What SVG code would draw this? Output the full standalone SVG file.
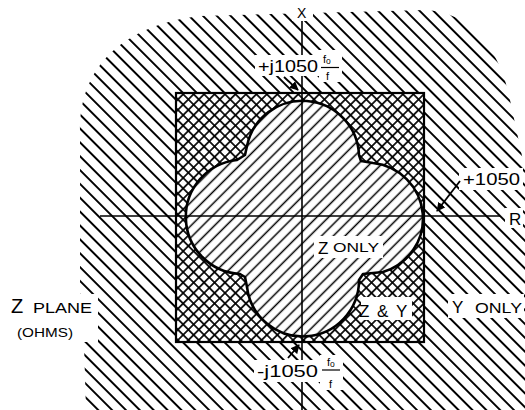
<svg xmlns="http://www.w3.org/2000/svg" width="525" height="410" viewBox="0 0 525 410">
<defs>
<style>
text { font-family: "Liberation Sans", Arial, sans-serif; fill: #000; }
.big { font-size: 17px; }
.lbl { font-size: 16.5px; }
.sm { font-size: 13px; }
.frac { font-size: 11px; }
.ko { fill: #fff; }
.axis { stroke: #000; stroke-width: 1.6; fill: none; }
.arr { stroke: #000; stroke-width: 1.8; fill: none; marker-end: url(#ah); }
.edge { stroke: #000; fill: none; }
</style>
<pattern id="hOut" patternUnits="userSpaceOnUse" width="20" height="9.8" patternTransform="rotate(45)">
<line x1="0" y1="4.9" x2="20" y2="4.9" stroke="#000" stroke-width="2"/>
</pattern>
<pattern id="hIn" patternUnits="userSpaceOnUse" width="20" height="8.3" patternTransform="rotate(-45)">
<line x1="0" y1="4.1" x2="20" y2="4.1" stroke="#000" stroke-width="1.5"/>
</pattern>
<pattern id="hX1" patternUnits="userSpaceOnUse" width="20" height="7.4" patternTransform="rotate(45)">
<line x1="0" y1="3.7" x2="20" y2="3.7" stroke="#000" stroke-width="1.7"/>
</pattern>
<pattern id="hX2" patternUnits="userSpaceOnUse" width="20" height="7.4" patternTransform="rotate(-45)">
<line x1="0" y1="3.7" x2="20" y2="3.7" stroke="#000" stroke-width="1.7"/>
</pattern>
<marker id="ah" viewBox="0 0 10 10" refX="9" refY="5" markerWidth="5" markerHeight="5" orient="auto">
<path d="M0,0 L10,5 L0,10 z" fill="#000"/>
</marker>
</defs>

<g id="y-only-region">
<path fill="url(#hOut)" fill-rule="evenodd" d="M86,410 L84,345 L80,300 L80,130 C80,65 125,25 200,16 L425,10 C470,12 500,48 510,100 L525,170 L525,410 Z M176,93 L424,93 L424,342 L176,342 Z"/>
</g>

<g id="z-and-y-region">
<path fill="url(#hX1)" fill-rule="evenodd" d="M176,93 L424,93 L424,342 L176,342 Z M247,146 A56.6 56.6 0 0 1 359,155 L361,161 L373,163 A55.8 55.8 0 0 1 383,272 L363,274 L359,280 A56.2 56.2 0 0 1 247,287 L245,277 L240,274 A57.2 57.2 0 0 1 237,160 L245,155 Z"/>
<path fill="url(#hX2)" fill-rule="evenodd" d="M176,93 L424,93 L424,342 L176,342 Z M247,146 A56.6 56.6 0 0 1 359,155 L361,161 L373,163 A55.8 55.8 0 0 1 383,272 L363,274 L359,280 A56.2 56.2 0 0 1 247,287 L245,277 L240,274 A57.2 57.2 0 0 1 237,160 L245,155 Z"/>
<rect class="edge" x="176" y="93" width="248" height="249" stroke-width="2.2"/>
</g>

<g id="z-only-region">
<path class="edge" stroke-width="2.6" stroke-linejoin="round" style="fill:url(#hIn)" d="M247,146 A56.6 56.6 0 0 1 359,155 L361,161 L373,163 A55.8 55.8 0 0 1 383,272 L363,274 L359,280 A56.2 56.2 0 0 1 247,287 L245,277 L240,274 A57.2 57.2 0 0 1 237,160 L245,155 Z"/>
</g>

<g id="knockouts">
<rect class="ko" x="292" y="3" width="21" height="18"/>
<rect class="ko" x="255" y="55" width="65" height="21"/>
<rect class="ko" x="319" y="50" width="23" height="32"/>
<rect class="ko" x="254" y="360" width="66" height="22"/>
<rect class="ko" x="320" y="355" width="23" height="35"/>
<rect class="ko" x="459" y="168" width="64" height="22"/>
<rect class="ko" x="505" y="208" width="18" height="20"/>
<rect class="ko" x="314" y="236" width="69" height="22"/>
<rect class="ko" x="361" y="297" width="51" height="23"/>
<rect class="ko" x="448" y="294" width="76" height="24"/>
<rect class="ko" x="6" y="294" width="92" height="48"/>
</g>

<g id="connectors">
<line class="axis" x1="302" y1="21" x2="302" y2="55"/>
<line class="axis" x1="302" y1="76" x2="302" y2="360"/>
<line class="axis" x1="302" y1="382" x2="302" y2="410"/>
<line class="axis" x1="100" y1="216" x2="500" y2="216"/>
<line class="arr" x1="284" y1="77" x2="298" y2="90"/>
<line class="arr" x1="288" y1="358" x2="299" y2="345"/>
<line class="arr" x1="460" y1="181" x2="437" y2="211"/>
</g>

<g id="labels">
<text x="297" y="18" style="font-size:14px">X</text>
<text class="lbl" x="258" y="72" textLength="60" lengthAdjust="spacingAndGlyphs">+j1050</text>
<text class="frac" x="323" y="63">f<tspan font-size="8.5" dy="1">o</tspan></text>
<line x1="321" y1="67.5" x2="339" y2="67.5" stroke="#000" stroke-width="1.2"/>
<text class="frac" x="326" y="80">f</text>
<text class="lbl" x="257" y="377" textLength="61" lengthAdjust="spacingAndGlyphs">-j1050</text>
<text class="frac" x="327" y="366">f<tspan font-size="8.5" dy="1">o</tspan></text>
<line x1="322" y1="370" x2="340" y2="370" stroke="#000" stroke-width="1.2"/>
<text class="frac" x="329" y="388">f</text>
<text class="lbl" x="463" y="185" textLength="57" lengthAdjust="spacingAndGlyphs">+1050</text>
<text x="509" y="225" style="font-size:17px">R</text>
<text x="318" y="254"><tspan class="big">Z</tspan><tspan class="sm" x="333" y="252" textLength="46" lengthAdjust="spacingAndGlyphs">ONLY</tspan></text>
<text x="359" y="317" class="big"><tspan x="359">Z</tspan><tspan x="377">&amp;</tspan><tspan x="396">Y</tspan></text>
<text x="452" y="313"><tspan class="big">Y</tspan><tspan x="475" y="313" style="font-size:14px" textLength="47" lengthAdjust="spacingAndGlyphs">ONLY</tspan></text>
<text x="11" y="313"><tspan style="font-size:20px">Z</tspan><tspan x="33" y="313" style="font-size:14.5px" textLength="59" lengthAdjust="spacingAndGlyphs">PLANE</tspan></text>
<text x="17" y="337" style="font-size:13.5px" textLength="56" lengthAdjust="spacingAndGlyphs">(OHMS)</text>
</g>
</svg>
